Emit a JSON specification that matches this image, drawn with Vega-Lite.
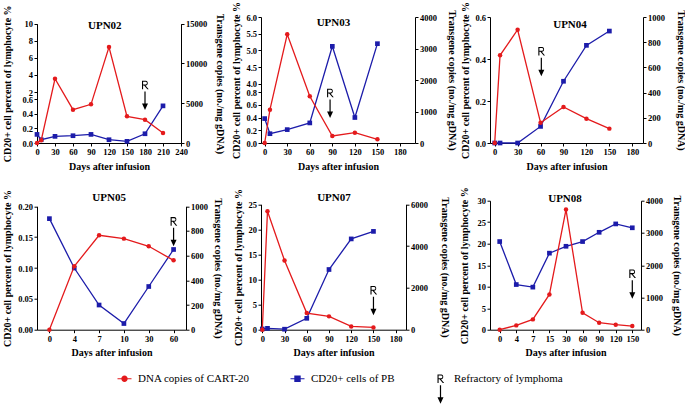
{
  "$schema": "https://vega.github.io/schema/vega-lite/v6.json",
  "padding": {"left": 1, "top": 0, "right": 0, "bottom": 0},
  "datasets": {
    "upn02": [
      {"day": 0, "cd20": 0.118, "dna": 0},
      {"day": 7, "cd20": 0.045, "dna": 335},
      {"day": 30, "cd20": 0.091, "dna": 8080},
      {"day": 60, "cd20": 0.1, "dna": 4190},
      {"day": 90, "cd20": 0.118, "dna": 4860},
      {"day": 120, "cd20": 0.045, "dna": 12070},
      {"day": 150, "cd20": 0.023, "dna": 3350},
      {"day": 180, "cd20": 0.127, "dna": 2930},
      {"day": 210, "cd20": 0.51, "dna": 1260}
    ],
    "upn03": [
      {"day": 0, "cd20": 0.383, "dna": 0},
      {"day": 7, "cd20": 0.146, "dna": 1057},
      {"day": 30, "cd20": 0.21, "dna": 3450},
      {"day": 60, "cd20": 0.315, "dna": 1482},
      {"day": 90, "cd20": 5.12, "dna": 222},
      {"day": 120, "cd20": 0.4, "dna": 327},
      {"day": 150, "cd20": 5.2, "dna": 117}
    ],
    "upn04": [
      {"day": 0, "cd20": 0, "dna": 0},
      {"day": 7, "cd20": 0, "dna": 696},
      {"day": 30, "cd20": 0, "dna": 899},
      {"day": 60, "cd20": 0.079, "dna": 161},
      {"day": 90, "cd20": 0.294, "dna": 286},
      {"day": 120, "cd20": 0.465, "dna": 193},
      {"day": 150, "cd20": 0.533, "dna": 114}
    ],
    "upn05": [
      {"day": 0, "cd20": 0.18, "dna": 0},
      {"day": 4, "cd20": 0.1, "dna": 514},
      {"day": 7, "cd20": 0.04, "dna": 765},
      {"day": 10, "cd20": 0.01, "dna": 738},
      {"day": 30, "cd20": 0.07, "dna": 676},
      {"day": 60, "cd20": 0.13, "dna": 562}
    ],
    "upn07": [
      {"day": 0, "cd20": 0.15, "dna": 0},
      {"day": 7, "cd20": 0.27, "dna": 5664},
      {"day": 30, "cd20": 0.1, "dna": 3312},
      {"day": 60, "cd20": 2.27, "dna": 797},
      {"day": 90, "cd20": 12.0, "dna": 638},
      {"day": 120, "cd20": 18.1, "dna": 158},
      {"day": 150, "cd20": 19.6, "dna": 110}
    ],
    "upn08": [
      {"day": 0, "cd20": 20.5, "dna": 0},
      {"day": 4, "cd20": 10.5, "dna": 134},
      {"day": 7, "cd20": 9.9, "dna": 320},
      {"day": 15, "cd20": 17.8, "dna": 1093},
      {"day": 30, "cd20": 19.4, "dna": 3726},
      {"day": 60, "cd20": 20.5, "dna": 525},
      {"day": 90, "cd20": 22.65, "dna": 216},
      {"day": 120, "cd20": 24.6, "dna": 155},
      {"day": 150, "cd20": 23.7, "dna": 114}
    ]
  },
  "columns": 3,
  "align": "each",
  "bounds": "flush",
  "spacing": {"row": 57.7, "column": 75},
  "concat": [
    {
      "width": 144, "height": 126,
      "data": {"name": "upn02"},
      "layer": [
        {"layer": [
          {"mark": {"type": "line", "color": "#1c1caa", "strokeWidth": 1.3}, "encoding": {
            "x": {"field": "day", "type": "quantitative", "scale": {"domain": [0, 240], "nice": false, "zero": false}, "axis": {"values": [0, 30, 60, 90, 120, 150, 180, 210, 240], "tickCount": 40, "title": "Days after infusion"}},
            "y": {"field": "cd20", "type": "quantitative", "scale": {"domain": [0, 0.6, 2, 10], "range": [126, 82.3, 75, 6.7], "nice": false, "zero": false}, "axis": {"orient": "left", "title": "CD20+ cell percent of  lymphocyte %", "values": [0, 0.2, 0.4, 0.6, 2, 4, 6, 8, 10], "tickCount": 40, "labelExpr": "datum.value < 1 ? format(datum.value, '.1f') : format(datum.value, 'd')", "titleX": -30, "titleBaseline": "middle"}}}},
          {"mark": {"type": "point", "shape": "square", "filled": true, "color": "#1c1caa", "size": 22, "opacity": 1}, "encoding": {"x": {"field": "day", "type": "quantitative"}, "y": {"field": "cd20", "type": "quantitative"}}}
        ]},
        {"layer": [
          {"mark": {"type": "line", "color": "#e41a1c", "strokeWidth": 1.3}, "encoding": {"x": {"field": "day", "type": "quantitative"}, "y": {"field": "dna", "type": "quantitative", "scale": {"domain": [0, 15000], "range": [126, 6.7], "nice": false, "zero": false}, "axis": {"orient": "right", "title": "Transgene copies (no./mg  gDNA)", "values": [0, 5000, 10000, 15000], "tickCount": 40, "format": "d", "titleX": 38, "titleBaseline": "middle"}}}},
          {"mark": {"type": "point", "shape": "circle", "filled": true, "color": "#e41a1c", "size": 20, "opacity": 1}, "encoding": {"x": {"field": "day", "type": "quantitative"}, "y": {"field": "dna", "type": "quantitative"}}},
          {"data": {"values": [{"label": "UPN02"}]}, "mark": {"type": "text", "font": "Liberation Serif", "fontSize": 11, "fontWeight": "bold", "color": "#000000", "baseline": "middle"}, "encoding": {"x": {"datum": 113, "type": "quantitative"}, "y": {"datum": 14711, "type": "quantitative"}, "text": {"field": "label"}}},
          {"data": {"values": [{"day": 180, "dna": 7293}]}, "mark": {"type": "point", "filled": true, "size": 4, "opacity": 1},
           "encoding": {"x": {"field": "day", "type": "quantitative"}, "y": {"field": "dna", "type": "quantitative"},
             "color": {"datum": "Refractory of lymphoma", "scale": {"domain": ["DNA copies of CART-20", "CD20+ cells of PB", "Refractory of lymphoma"], "range": ["#e41a1c", "#1c1caa", "#000000"]}, "legend": {"title": null, "orient": "none", "legendX": 82, "legendY": 356, "direction": "horizontal", "labelFont": "Liberation Serif", "labelFontSize": 11, "labelColor": "#000000", "labelOffset": 8, "columnPadding": 40, "symbolStrokeWidth": 0, "padding": 0}},
             "shape": {"datum": "Refractory of lymphoma", "scale": {"domain": ["DNA copies of CART-20", "CD20+ cells of PB", "Refractory of lymphoma"], "range": ["M-7,-0.6L-7,0.6L7,0.6L7,-0.6ZM-3.2,0A3.2,3.2,0,1,0,3.2,0A3.2,3.2,0,1,0,-3.2,0ZM0,25L0,25", "M-7,-0.6L-7,0.6L7,0.6L7,-0.6ZM-3.2,-3.2L-3.2,3.2L3.2,3.2L3.2,-3.2ZM0,25L0,25", "M-3,-4.3L0.9,-4.3C3.4,-4.3,3.4,0.5,0.9,0.5L0.5,0.5L3.7,4.3L2.3,4.3L-0.9,0.5L-1.9,0.5L-1.9,4.3L-3,4.3ZM-1.9,-3.2L-1.9,-0.6L0.8,-0.6C2.3,-0.6,2.3,-3.2,0.8,-3.2ZM-0.6,6.5L-0.6,19L0.6,19L0.6,6.5ZM-3,18.5L0,25L3,18.5Z"]}, "legend": {"title": null, "orient": "none", "legendX": 82, "legendY": 356, "direction": "horizontal", "labelFont": "Liberation Serif", "labelFontSize": 11, "labelColor": "#000000", "labelOffset": 8, "columnPadding": 40, "symbolStrokeWidth": 0, "padding": 0}}}}
        ]}
      ],
      "resolve": {"scale": {"y": "independent"}}
    },
    {
      "width": 154, "height": 126,
      "data": {"name": "upn03"},
      "layer": [
        {"layer": [
          {"mark": {"type": "line", "color": "#1c1caa", "strokeWidth": 1.3}, "encoding": {
            "x": {"field": "day", "type": "quantitative", "scale": {"domain": [-4.9, 200], "nice": false, "zero": false}, "axis": {"values": [0, 30, 60, 90, 120, 150, 180], "tickCount": 40, "title": "Days after infusion"}},
            "y": {"field": "cd20", "type": "quantitative", "scale": {"domain": [0, 0.8, 4, 6], "range": [126, 75, 66.7, 0], "nice": false, "zero": false}, "axis": {"orient": "left", "title": "CD20+ cell percent of  lymphocyte %", "values": [0, 0.2, 0.4, 0.6, 0.8, 4, 4.5, 5, 5.5, 6], "tickCount": 40, "format": ".1f", "titleX": -25, "titleBaseline": "middle"}}}},
          {"mark": {"type": "point", "shape": "square", "filled": true, "color": "#1c1caa", "size": 22, "opacity": 1}, "encoding": {"x": {"field": "day", "type": "quantitative"}, "y": {"field": "cd20", "type": "quantitative"}}}
        ]},
        {"layer": [
          {"mark": {"type": "line", "color": "#e41a1c", "strokeWidth": 1.3}, "encoding": {"x": {"field": "day", "type": "quantitative"}, "y": {"field": "dna", "type": "quantitative", "scale": {"domain": [0, 4000], "nice": false, "zero": false}, "axis": {"orient": "right", "title": "Transgene copies (no./mg  gDNA)", "values": [0, 1000, 2000, 3000, 4000], "tickCount": 40, "format": "d", "titleX": 36, "titleBaseline": "middle"}}}},
          {"mark": {"type": "point", "shape": "circle", "filled": true, "color": "#e41a1c", "size": 20, "opacity": 1}, "encoding": {"x": {"field": "day", "type": "quantitative"}, "y": {"field": "dna", "type": "quantitative"}}},
          {"data": {"values": [{"label": "UPN03"}]}, "mark": {"type": "text", "font": "Liberation Serif", "fontSize": 11, "fontWeight": "bold", "color": "#000000", "baseline": "middle"}, "encoding": {"x": {"datum": 91.5, "type": "quantitative"}, "y": {"datum": 3819, "type": "quantitative"}, "text": {"field": "label"}}},
          {"data": {"values": [{"day": 87, "dna": 1587}]}, "mark": {"type": "point", "filled": true, "size": 4, "opacity": 1},
           "encoding": {"x": {"field": "day", "type": "quantitative"}, "y": {"field": "dna", "type": "quantitative"},
             "color": {"datum": "Refractory of lymphoma", "scale": {"domain": ["DNA copies of CART-20", "CD20+ cells of PB", "Refractory of lymphoma"], "range": ["#e41a1c", "#1c1caa", "#000000"]}, "legend": {"title": null, "orient": "none", "legendX": 82, "legendY": 356, "direction": "horizontal", "labelFont": "Liberation Serif", "labelFontSize": 11, "labelColor": "#000000", "labelOffset": 8, "columnPadding": 40, "symbolStrokeWidth": 0, "padding": 0}},
             "shape": {"datum": "Refractory of lymphoma", "scale": {"domain": ["DNA copies of CART-20", "CD20+ cells of PB", "Refractory of lymphoma"], "range": ["M-7,-0.6L-7,0.6L7,0.6L7,-0.6ZM-3.2,0A3.2,3.2,0,1,0,3.2,0A3.2,3.2,0,1,0,-3.2,0ZM0,25L0,25", "M-7,-0.6L-7,0.6L7,0.6L7,-0.6ZM-3.2,-3.2L-3.2,3.2L3.2,3.2L3.2,-3.2ZM0,25L0,25", "M-3,-4.3L0.9,-4.3C3.4,-4.3,3.4,0.5,0.9,0.5L0.5,0.5L3.7,4.3L2.3,4.3L-0.9,0.5L-1.9,0.5L-1.9,4.3L-3,4.3ZM-1.9,-3.2L-1.9,-0.6L0.8,-0.6C2.3,-0.6,2.3,-3.2,0.8,-3.2ZM-0.6,6.5L-0.6,19L0.6,19L0.6,6.5ZM-3,18.5L0,25L3,18.5Z"]}, "legend": {"title": null, "orient": "none", "legendX": 82, "legendY": 356, "direction": "horizontal", "labelFont": "Liberation Serif", "labelFontSize": 11, "labelColor": "#000000", "labelOffset": 8, "columnPadding": 40, "symbolStrokeWidth": 0, "padding": 0}}}}
        ]}
      ],
      "resolve": {"scale": {"y": "independent"}}
    },
    {
      "width": 153, "height": 126,
      "data": {"name": "upn04"},
      "layer": [
        {"layer": [
          {"mark": {"type": "line", "color": "#1c1caa", "strokeWidth": 1.3}, "encoding": {
            "x": {"field": "day", "type": "quantitative", "scale": {"domain": [-6.15, 194], "nice": false, "zero": false}, "axis": {"values": [0, 30, 60, 90, 120, 150, 180], "tickCount": 40, "title": "Days after infusion"}},
            "y": {"field": "cd20", "type": "quantitative", "scale": {"domain": [0, 0.6], "nice": false, "zero": false}, "axis": {"orient": "left", "title": "CD20+ cell percent of  lymphocyte %", "values": [0, 0.2, 0.4, 0.6], "tickCount": 40, "format": ".1f", "titleX": -25, "titleBaseline": "middle"}}}},
          {"mark": {"type": "point", "shape": "square", "filled": true, "color": "#1c1caa", "size": 22, "opacity": 1}, "encoding": {"x": {"field": "day", "type": "quantitative"}, "y": {"field": "cd20", "type": "quantitative"}}}
        ]},
        {"layer": [
          {"mark": {"type": "line", "color": "#e41a1c", "strokeWidth": 1.3}, "encoding": {"x": {"field": "day", "type": "quantitative"}, "y": {"field": "dna", "type": "quantitative", "scale": {"domain": [0, 1000], "nice": false, "zero": false}, "axis": {"orient": "right", "title": "Transgene copies (no./mg  gDNA)", "values": [0, 200, 400, 600, 800, 1000], "tickCount": 40, "format": "d", "titleX": 37, "titleBaseline": "middle"}}}},
          {"mark": {"type": "point", "shape": "circle", "filled": true, "color": "#e41a1c", "size": 20, "opacity": 1}, "encoding": {"x": {"field": "day", "type": "quantitative"}, "y": {"field": "dna", "type": "quantitative"}}},
          {"data": {"values": [{"label": "UPN04"}]}, "mark": {"type": "text", "font": "Liberation Serif", "fontSize": 11, "fontWeight": "bold", "color": "#000000", "baseline": "middle"}, "encoding": {"x": {"datum": 98.5, "type": "quantitative"}, "y": {"datum": 934, "type": "quantitative"}, "text": {"field": "label"}}},
          {"data": {"values": [{"day": 61, "dna": 728}]}, "mark": {"type": "point", "filled": true, "size": 4, "opacity": 1},
           "encoding": {"x": {"field": "day", "type": "quantitative"}, "y": {"field": "dna", "type": "quantitative"},
             "color": {"datum": "Refractory of lymphoma", "scale": {"domain": ["DNA copies of CART-20", "CD20+ cells of PB", "Refractory of lymphoma"], "range": ["#e41a1c", "#1c1caa", "#000000"]}, "legend": {"title": null, "orient": "none", "legendX": 82, "legendY": 356, "direction": "horizontal", "labelFont": "Liberation Serif", "labelFontSize": 11, "labelColor": "#000000", "labelOffset": 8, "columnPadding": 40, "symbolStrokeWidth": 0, "padding": 0}},
             "shape": {"datum": "Refractory of lymphoma", "scale": {"domain": ["DNA copies of CART-20", "CD20+ cells of PB", "Refractory of lymphoma"], "range": ["M-7,-0.6L-7,0.6L7,0.6L7,-0.6ZM-3.2,0A3.2,3.2,0,1,0,3.2,0A3.2,3.2,0,1,0,-3.2,0ZM0,25L0,25", "M-7,-0.6L-7,0.6L7,0.6L7,-0.6ZM-3.2,-3.2L-3.2,3.2L3.2,3.2L3.2,-3.2ZM0,25L0,25", "M-3,-4.3L0.9,-4.3C3.4,-4.3,3.4,0.5,0.9,0.5L0.5,0.5L3.7,4.3L2.3,4.3L-0.9,0.5L-1.9,0.5L-1.9,4.3L-3,4.3ZM-1.9,-3.2L-1.9,-0.6L0.8,-0.6C2.3,-0.6,2.3,-3.2,0.8,-3.2ZM-0.6,6.5L-0.6,19L0.6,19L0.6,6.5ZM-3,18.5L0,25L3,18.5Z"]}, "legend": {"title": null, "orient": "none", "legendX": 82, "legendY": 356, "direction": "horizontal", "labelFont": "Liberation Serif", "labelFontSize": 11, "labelColor": "#000000", "labelOffset": 8, "columnPadding": 40, "symbolStrokeWidth": 0, "padding": 0}}}}
        ]}
      ],
      "resolve": {"scale": {"y": "independent"}}
    },
    {
      "width": 149, "height": 129,
      "data": {"name": "upn05"},
      "layer": [
        {"layer": [
          {"mark": {"type": "line", "color": "#1c1caa", "strokeWidth": 1.3}, "encoding": {
            "x": {"field": "day", "type": "ordinal", "scale": {"type": "point", "padding": 0.5}, "axis": {"labelAngle": 0, "title": "Days after infusion"}},
            "y": {"field": "cd20", "type": "quantitative", "scale": {"domain": [0, 0.2], "range": [129, 5.6], "nice": false, "zero": false}, "axis": {"orient": "left", "title": "CD20+ cell percent of  lymphocyte %", "values": [0, 0.05, 0.1, 0.15, 0.2], "tickCount": 40, "format": ".2f", "titleX": -30, "titleBaseline": "middle"}}}},
          {"mark": {"type": "point", "shape": "square", "filled": true, "color": "#1c1caa", "size": 22, "opacity": 1}, "encoding": {"x": {"field": "day", "type": "ordinal"}, "y": {"field": "cd20", "type": "quantitative"}}}
        ]},
        {"layer": [
          {"mark": {"type": "line", "color": "#e41a1c", "strokeWidth": 1.3}, "encoding": {"x": {"field": "day", "type": "ordinal"}, "y": {"field": "dna", "type": "quantitative", "scale": {"domain": [0, 1000], "range": [129, 5.6], "nice": false, "zero": false}, "axis": {"orient": "right", "title": "Transgene copies (no./mg  gDNA)", "values": [0, 200, 400, 600, 800, 1000], "tickCount": 40, "format": "d", "titleX": 31.6, "titleBaseline": "middle"}}}},
          {"mark": {"type": "point", "shape": "circle", "filled": true, "color": "#e41a1c", "size": 20, "opacity": 1}, "encoding": {"x": {"field": "day", "type": "ordinal"}, "y": {"field": "dna", "type": "quantitative"}}},
          {"data": {"values": [{"label": "UPN05"}]}, "mark": {"type": "text", "font": "Liberation Serif", "fontSize": 11, "fontWeight": "bold", "color": "#000000", "baseline": "middle", "dx": 10}, "encoding": {"x": {"datum": 7, "type": "ordinal"}, "y": {"datum": 1067, "type": "quantitative"}, "text": {"field": "label"}}},
          {"data": {"values": [{"day": 60, "dna": 878}]}, "mark": {"type": "point", "filled": true, "size": 4, "opacity": 1},
           "encoding": {"x": {"field": "day", "type": "ordinal"}, "y": {"field": "dna", "type": "quantitative"},
             "color": {"datum": "Refractory of lymphoma", "scale": {"domain": ["DNA copies of CART-20", "CD20+ cells of PB", "Refractory of lymphoma"], "range": ["#e41a1c", "#1c1caa", "#000000"]}, "legend": {"title": null, "orient": "none", "legendX": 82, "legendY": 356, "direction": "horizontal", "labelFont": "Liberation Serif", "labelFontSize": 11, "labelColor": "#000000", "labelOffset": 8, "columnPadding": 40, "symbolStrokeWidth": 0, "padding": 0}},
             "shape": {"datum": "Refractory of lymphoma", "scale": {"domain": ["DNA copies of CART-20", "CD20+ cells of PB", "Refractory of lymphoma"], "range": ["M-7,-0.6L-7,0.6L7,0.6L7,-0.6ZM-3.2,0A3.2,3.2,0,1,0,3.2,0A3.2,3.2,0,1,0,-3.2,0ZM0,25L0,25", "M-7,-0.6L-7,0.6L7,0.6L7,-0.6ZM-3.2,-3.2L-3.2,3.2L3.2,3.2L3.2,-3.2ZM0,25L0,25", "M-3,-4.3L0.9,-4.3C3.4,-4.3,3.4,0.5,0.9,0.5L0.5,0.5L3.7,4.3L2.3,4.3L-0.9,0.5L-1.9,0.5L-1.9,4.3L-3,4.3ZM-1.9,-3.2L-1.9,-0.6L0.8,-0.6C2.3,-0.6,2.3,-3.2,0.8,-3.2ZM-0.6,6.5L-0.6,19L0.6,19L0.6,6.5ZM-3,18.5L0,25L3,18.5Z"]}, "legend": {"title": null, "orient": "none", "legendX": 82, "legendY": 356, "direction": "horizontal", "labelFont": "Liberation Serif", "labelFontSize": 11, "labelColor": "#000000", "labelOffset": 8, "columnPadding": 40, "symbolStrokeWidth": 0, "padding": 0}}}}
        ]}
      ],
      "resolve": {"scale": {"y": "independent"}}
    },
    {
      "width": 145, "height": 129,
      "data": {"name": "upn07"},
      "layer": [
        {"layer": [
          {"mark": {"type": "line", "color": "#1c1caa", "strokeWidth": 1.3}, "encoding": {
            "x": {"field": "day", "type": "quantitative", "scale": {"domain": [-1.75, 193.9], "nice": false, "zero": false}, "axis": {"values": [0, 30, 60, 90, 120, 150, 180], "tickCount": 40, "title": "Days after infusion"}},
            "y": {"field": "cd20", "type": "quantitative", "scale": {"domain": [0, 25], "range": [129, 3.6], "nice": false, "zero": false}, "axis": {"orient": "left", "title": "CD20+ cell percent of  lymphocyte %", "values": [0, 5, 10, 15, 20, 25], "tickCount": 40, "format": "d", "titleX": -23, "titleBaseline": "middle"}}}},
          {"mark": {"type": "point", "shape": "square", "filled": true, "color": "#1c1caa", "size": 22, "opacity": 1}, "encoding": {"x": {"field": "day", "type": "quantitative"}, "y": {"field": "cd20", "type": "quantitative"}}}
        ]},
        {"layer": [
          {"mark": {"type": "line", "color": "#e41a1c", "strokeWidth": 1.3}, "encoding": {"x": {"field": "day", "type": "quantitative"}, "y": {"field": "dna", "type": "quantitative", "scale": {"domain": [0, 6000], "range": [129, 3.6], "nice": false, "zero": false}, "axis": {"orient": "right", "title": "Transgene copies (no./mg  gDNA)", "values": [0, 2000, 4000, 6000], "tickCount": 40, "format": "d", "titleX": 38, "titleBaseline": "middle"}}}},
          {"mark": {"type": "point", "shape": "circle", "filled": true, "color": "#e41a1c", "size": 20, "opacity": 1}, "encoding": {"x": {"field": "day", "type": "quantitative"}, "y": {"field": "dna", "type": "quantitative"}}},
          {"data": {"values": [{"label": "UPN07"}]}, "mark": {"type": "text", "font": "Liberation Serif", "fontSize": 11, "fontWeight": "bold", "color": "#000000", "baseline": "middle"}, "encoding": {"x": {"datum": 96.7, "type": "quantitative"}, "y": {"datum": 6301, "type": "quantitative"}, "text": {"field": "label"}}},
          {"data": {"values": [{"day": 150, "dna": 1885}]}, "mark": {"type": "point", "filled": true, "size": 4, "opacity": 1},
           "encoding": {"x": {"field": "day", "type": "quantitative"}, "y": {"field": "dna", "type": "quantitative"},
             "color": {"datum": "Refractory of lymphoma", "scale": {"domain": ["DNA copies of CART-20", "CD20+ cells of PB", "Refractory of lymphoma"], "range": ["#e41a1c", "#1c1caa", "#000000"]}, "legend": {"title": null, "orient": "none", "legendX": 82, "legendY": 356, "direction": "horizontal", "labelFont": "Liberation Serif", "labelFontSize": 11, "labelColor": "#000000", "labelOffset": 8, "columnPadding": 40, "symbolStrokeWidth": 0, "padding": 0}},
             "shape": {"datum": "Refractory of lymphoma", "scale": {"domain": ["DNA copies of CART-20", "CD20+ cells of PB", "Refractory of lymphoma"], "range": ["M-7,-0.6L-7,0.6L7,0.6L7,-0.6ZM-3.2,0A3.2,3.2,0,1,0,3.2,0A3.2,3.2,0,1,0,-3.2,0ZM0,25L0,25", "M-7,-0.6L-7,0.6L7,0.6L7,-0.6ZM-3.2,-3.2L-3.2,3.2L3.2,3.2L3.2,-3.2ZM0,25L0,25", "M-3,-4.3L0.9,-4.3C3.4,-4.3,3.4,0.5,0.9,0.5L0.5,0.5L3.7,4.3L2.3,4.3L-0.9,0.5L-1.9,0.5L-1.9,4.3L-3,4.3ZM-1.9,-3.2L-1.9,-0.6L0.8,-0.6C2.3,-0.6,2.3,-3.2,0.8,-3.2ZM-0.6,6.5L-0.6,19L0.6,19L0.6,6.5ZM-3,18.5L0,25L3,18.5Z"]}, "legend": {"title": null, "orient": "none", "legendX": 82, "legendY": 356, "direction": "horizontal", "labelFont": "Liberation Serif", "labelFontSize": 11, "labelColor": "#000000", "labelOffset": 8, "columnPadding": 40, "symbolStrokeWidth": 0, "padding": 0}}}}
        ]}
      ],
      "resolve": {"scale": {"y": "independent"}}
    },
    {
      "width": 151, "height": 129,
      "data": {"name": "upn08"},
      "layer": [
        {"layer": [
          {"mark": {"type": "line", "color": "#1c1caa", "strokeWidth": 1.3}, "encoding": {
            "x": {"field": "day", "type": "ordinal", "scale": {"type": "point", "padding": 0.555, "align": 0.527}, "axis": {"labelAngle": 0, "title": "Days after infusion"}},
            "y": {"field": "cd20", "type": "quantitative", "scale": {"domain": [0, 30], "nice": false, "zero": false}, "axis": {"orient": "left", "title": "CD20+ cell percent of  lymphocyte %", "values": [0, 5, 10, 15, 20, 25, 30], "tickCount": 40, "format": "d", "titleX": -25.7, "titleBaseline": "middle"}}}},
          {"mark": {"type": "point", "shape": "square", "filled": true, "color": "#1c1caa", "size": 22, "opacity": 1}, "encoding": {"x": {"field": "day", "type": "ordinal"}, "y": {"field": "cd20", "type": "quantitative"}}}
        ]},
        {"layer": [
          {"mark": {"type": "line", "color": "#e41a1c", "strokeWidth": 1.3}, "encoding": {"x": {"field": "day", "type": "ordinal"}, "y": {"field": "dna", "type": "quantitative", "scale": {"domain": [0, 4000], "nice": false, "zero": false}, "axis": {"orient": "right", "title": "Transgene copies (no./mg  gDNA)", "values": [0, 1000, 2000, 3000, 4000], "tickCount": 40, "format": "d", "titleX": 35, "titleBaseline": "middle"}}}},
          {"mark": {"type": "point", "shape": "circle", "filled": true, "color": "#e41a1c", "size": 20, "opacity": 1}, "encoding": {"x": {"field": "day", "type": "ordinal"}, "y": {"field": "dna", "type": "quantitative"}}},
          {"data": {"values": [{"label": "UPN08"}]}, "mark": {"type": "text", "font": "Liberation Serif", "fontSize": 11, "fontWeight": "bold", "color": "#000000", "baseline": "middle", "dx": -1}, "encoding": {"x": {"datum": 30, "type": "ordinal"}, "y": {"datum": 4062, "type": "quantitative"}, "text": {"field": "label"}}},
          {"data": {"values": [{"day": 150, "dna": 1737}]}, "mark": {"type": "point", "filled": true, "size": 4, "opacity": 1},
           "encoding": {"x": {"field": "day", "type": "ordinal"}, "y": {"field": "dna", "type": "quantitative"},
             "color": {"datum": "Refractory of lymphoma", "scale": {"domain": ["DNA copies of CART-20", "CD20+ cells of PB", "Refractory of lymphoma"], "range": ["#e41a1c", "#1c1caa", "#000000"]}, "legend": {"title": null, "orient": "none", "legendX": 82, "legendY": 356, "direction": "horizontal", "labelFont": "Liberation Serif", "labelFontSize": 11, "labelColor": "#000000", "labelOffset": 8, "columnPadding": 40, "symbolStrokeWidth": 0, "padding": 0}},
             "shape": {"datum": "Refractory of lymphoma", "scale": {"domain": ["DNA copies of CART-20", "CD20+ cells of PB", "Refractory of lymphoma"], "range": ["M-7,-0.6L-7,0.6L7,0.6L7,-0.6ZM-3.2,0A3.2,3.2,0,1,0,3.2,0A3.2,3.2,0,1,0,-3.2,0ZM0,25L0,25", "M-7,-0.6L-7,0.6L7,0.6L7,-0.6ZM-3.2,-3.2L-3.2,3.2L3.2,3.2L3.2,-3.2ZM0,25L0,25", "M-3,-4.3L0.9,-4.3C3.4,-4.3,3.4,0.5,0.9,0.5L0.5,0.5L3.7,4.3L2.3,4.3L-0.9,0.5L-1.9,0.5L-1.9,4.3L-3,4.3ZM-1.9,-3.2L-1.9,-0.6L0.8,-0.6C2.3,-0.6,2.3,-3.2,0.8,-3.2ZM-0.6,6.5L-0.6,19L0.6,19L0.6,6.5ZM-3,18.5L0,25L3,18.5Z"]}, "legend": {"title": null, "orient": "none", "legendX": 82, "legendY": 356, "direction": "horizontal", "labelFont": "Liberation Serif", "labelFontSize": 11, "labelColor": "#000000", "labelOffset": 8, "columnPadding": 40, "symbolStrokeWidth": 0, "padding": 0}}}}
        ]}
      ],
      "resolve": {"scale": {"y": "independent"}}
    }
  ],
  "resolve": {"scale": {"color": "shared", "shape": "shared"}, "legend": {"color": "shared", "shape": "shared"}},
  "config": {
    "view": {"stroke": null},
    "font": "Liberation Serif",
    "axis": {"labelFont": "Liberation Serif", "labelFontSize": 8.5, "labelFontWeight": "bold", "labelColor": "#000000", "titleFont": "Liberation Serif", "titleFontSize": 10, "titleFontWeight": "bold", "titleColor": "#000000", "domainColor": "#000000", "tickColor": "#000000", "tickSize": 3, "labelPadding": 1.5, "titlePadding": 5, "grid": false, "labelFlush": false, "labelOverlap": false, "tickCount": 40},
    "legend": {"labelFont": "Liberation Serif", "labelFontSize": 11, "labelColor": "#000000", "symbolSize": 4, "symbolStrokeWidth": 0, "columnPadding": 40, "labelOffset": 8, "padding": 0}
  }
}
